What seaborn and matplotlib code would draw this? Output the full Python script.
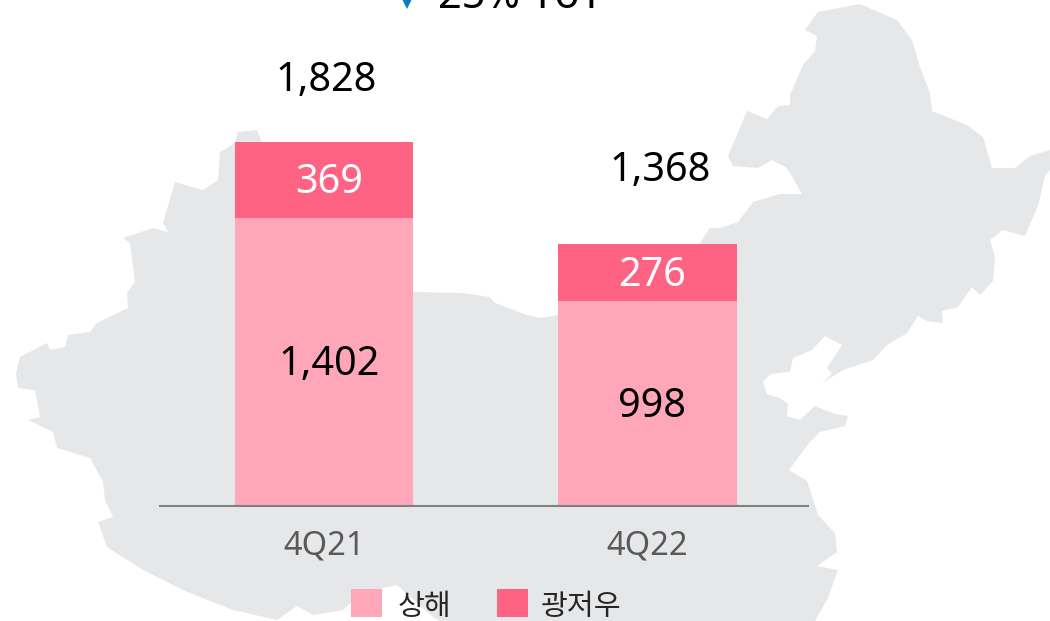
import matplotlib
matplotlib.use('Agg')
import matplotlib.pyplot as plt
import pandas as pd
import seaborn as sns

# Data
quarters = ['4Q21', '4Q22']
shanghai = [1402, 998]
guangzhou = [369, 276]
totals = [1828, 1368]
series_names = ['상해', '광저우']
change_text = '25% YoY'

# Background map outline, pixels of the 1050x621 picture
map_x = [257, 238, 235, 220, 218, 203, 175, 163, 168, 153, 123, 130, 135, 127, 128, 97, 90, 68, 65, 50, 47, 20, 16, 18,
         35, 40, 28, 53, 57, 90, 103, 105, 113, 98, 107, 143, 183, 200, 233, 277, 297, 313, 343, 360, 383, 397, 433,
         440, 815,
         828, 838, 817, 837, 835, 818, 807, 789, 810, 820, 845, 848, 835, 815, 800, 787, 788, 780, 767, 763, 770,
         790, 793, 812, 825, 842, 827, 832, 822, 843, 873, 887, 907, 918, 927, 943, 942, 958, 972, 980, 993, 995,
         990, 1003, 1025, 1038, 1045, 1050, 1050, 1030, 1015, 992, 983, 967, 947, 932, 930, 920, 912, 897, 860,
         818, 805, 817, 815, 803, 790, 790, 778, 767, 747, 728, 733, 758, 772, 787, 802, 780, 753, 738, 720, 710,
         700, 690, 557, 540, 527, 495, 490, 463, 417, 414, 262]
map_y = [130, 132, 143, 152, 180, 190, 182, 223, 232, 228, 238, 243, 282, 293, 308, 323, 332, 335, 347, 350, 343, 357,
         373, 388, 390, 417, 420, 432, 448, 458, 482, 500, 517, 522, 547, 570, 590, 597, 610, 620, 606, 615, 610, 595,
         588, 585, 617,
         621, 621, 598, 570, 566, 552, 533, 515, 481, 470, 442, 432, 426, 416, 414, 406, 420, 416, 404, 398, 394,
         382, 374, 372, 358, 350, 336, 345, 368, 374, 383, 370, 360, 345, 333, 316, 321, 323, 311, 307, 287, 295,
         281, 257, 240, 230, 236, 206, 176, 170, 150, 156, 168, 168, 137, 125, 117, 111, 93, 67, 40, 20, 4, 12, 30,
         36, 51, 65, 95, 105, 106, 119, 111, 156, 166, 168, 160, 168, 194, 194, 202, 222, 228, 228, 243, 250, 315,
         318, 315, 303, 297, 293, 292, 292, 142]

light = '#FFA6B8'
dark = '#FF6384'

sns.set_style('white')
plt.rcParams['font.family'] = ['Noto Sans', 'Noto Sans CJK KR', 'DejaVu Sans']

fig = plt.figure(figsize=(10.5, 6.21), dpi=100)

# Map and the clipped change note live on a full-picture axes
bg = fig.add_axes([0, 0, 1, 1])
bg.set_xlim(0, 1050)
bg.set_ylim(621, 0)
bg.axis('off')
bg.fill(map_x, map_y, color='#E6E7E9', lw=0)
bg.plot([406.5], [0], marker='v', ms=13, color='#0A7CC4', mew=0, clip_on=False)
bg.text(438, 8, change_text, fontsize=30, color='black', va='baseline', ha='left')

# Bars
ax = fig.add_axes([159 / 1050, 115 / 621, 650 / 1050, 506 / 621])
ax.patch.set_alpha(0)
df = pd.DataFrame({'quarter': quarters, 'shanghai': shanghai, 'guangzhou': guangzhou})
sns.barplot(data=df, x='quarter', y='shanghai', color=light, width=0.553, saturation=1, linewidth=0, ax=ax,
            label=series_names[0])
sns.barplot(data=df, x='quarter', y='guangzhou', bottom=df['shanghai'], color=dark, width=0.553, saturation=1,
            linewidth=0, ax=ax, label=series_names[1])

ax.set_xlim(-0.51, 1.499)
ax.set_ylim(0, 2462)
ax.set_xlabel('')
ax.set_ylabel('')
ax.set_yticks([])
ax.tick_params(axis='x', length=0, labelsize=23.5, labelcolor='#595959', pad=17)
sns.despine(ax=ax, left=True)
ax.spines['bottom'].set_color('#808080')
ax.spines['bottom'].set_linewidth(1.5)
ax.spines['bottom'].set_capstyle('butt')

# Value labels
for cont, col in zip(ax.containers, ['black', 'white']):
    labels = ax.bar_label(cont, labels=[f'{int(v):,}' for v in cont.datavalues], label_type='center', fontsize=28.5,
                          color=col)
    for t in labels:
        t.xyann = (3.4, -2.5)

for i, (total, off) in enumerate(zip(totals, [(1.5, 35.5), (9, 38.5)])):
    ax.annotate(f'{total:,}', (i, total), xytext=off, textcoords='offset points', ha='center', va='center',
                fontsize=28.5, color='black')

leg = ax.legend(loc='lower left', bbox_to_anchor=(351 / 1050, 1 / 621), bbox_transform=fig.transFigure, ncol=2,
                frameon=False, fontsize=21, handlelength=1.06, handleheight=1.13, handletextpad=0.53, columnspacing=1.58,
                borderpad=0, borderaxespad=0)
for t, dx in zip(leg.get_texts(), [0, -3]):
    t.set_fontweight('medium')
    t.set_position((dx, -2))

plt.savefig('out.png', dpi=100)
plt.close()
